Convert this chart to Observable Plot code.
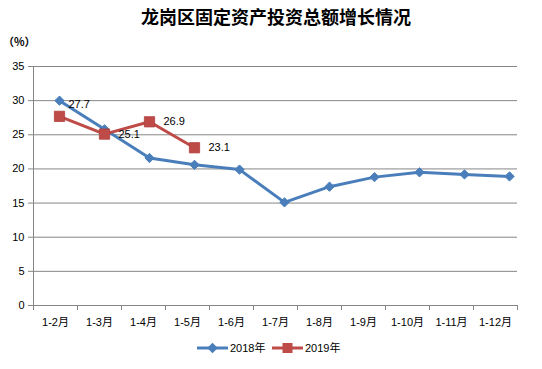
<!DOCTYPE html>
<html>
<head>
<meta charset="utf-8">
<script src="https://cdn.jsdelivr.net/npm/d3@7"></script>
<script src="https://cdn.jsdelivr.net/npm/@observablehq/plot@0.6"></script>
<style>
  html, body { margin: 0; padding: 0; background: #fff; }
  #chart { position: relative; width: 542px; height: 369px; }
  #chart svg { position: absolute; left: 0; top: 0; }
</style>
</head>
<body>
<div id="chart"></div>
<script>
const titleText = "龙岗区固定资产投资总额增长情况";
const unitText = "（%）";
const categories = ["1-2月", "1-3月", "1-4月", "1-5月", "1-6月", "1-7月", "1-8月", "1-9月", "1-10月", "1-11月", "1-12月"];
const v2018 = [30.0, 25.8, 21.6, 20.6, 19.9, 15.1, 17.4, 18.8, 19.5, 19.2, 18.9];
const v2019 = [27.7, 25.1, 26.9, 23.1];
const yTicks = [0, 5, 10, 15, 20, 25, 30, 35];
const seriesNames = ["2018年", "2019年"];
const colors = ["#4A7EBB", "#BE4B48"];

const d2018 = v2018.map((v, i) => ({cat: categories[i], v}));
const d2019 = v2019.map((v, i) => ({cat: categories[i], v}));

const font = "'Liberation Sans', 'Noto Sans CJK SC', sans-serif";
const frame = {width: 542, height: 369, marginTop: 66, marginBottom: 64, marginLeft: 33, marginRight: 25};

// background: grid, axes
const base = Plot.plot({
  ...frame,
  style: {fontFamily: font, fontSize: "11px", color: "#000", background: "#fff"},
  x: {type: "band", domain: categories, padding: 0, label: null},
  y: {domain: [0, 35], label: null},
  marks: [
    Plot.gridY(yTicks, {stroke: "#868686", strokeOpacity: 1, strokeWidth: 1}),
    Plot.axisY(yTicks, {tickSize: 5, tickPadding: 4, stroke: "#868686", fill: "#000", fontSize: 11, label: null}),
    Plot.axisX({tickSize: 0, tickPadding: 13, fill: "#000", fontSize: 11, label: null})
  ]
});

// data layer (the original's points are spaced slightly wider than the category bands)
const data = Plot.plot({
  ...frame,
  style: {fontFamily: font, fontSize: "11px", color: "#000", background: "transparent"},
  x: {type: "point", domain: categories, padding: 0, insetLeft: 23, insetRight: 5, axis: null},
  y: {domain: [0, 35], axis: null},
  marks: [
    Plot.line(d2018, {x: "cat", y: "v", stroke: colors[0], strokeWidth: 3, strokeLinejoin: "round"}),
    Plot.dot(d2018, {x: "cat", y: "v", symbol: "diamond2", r: 4.2, fill: colors[0], stroke: colors[0], strokeWidth: 1}),
    Plot.line(d2019, {x: "cat", y: "v", stroke: colors[1], strokeWidth: 3, strokeLinejoin: "round"}),
    Plot.dot(d2019, {x: "cat", y: "v", symbol: "square", r: 5.8, fill: colors[1], stroke: "#B0403D", strokeWidth: 0.8}),
    Plot.text(d2019.slice(0, 1), {x: "cat", y: "v", text: d => d.v.toFixed(1), dx: 9, dy: -12, textAnchor: "start", fontSize: 11, fill: "#000"}),
    Plot.text(d2019.slice(1), {x: "cat", y: "v", text: d => d.v.toFixed(1), dx: 14, dy: 0, textAnchor: "start", fontSize: 11, fill: "#000"})
  ]
});

const chart = document.getElementById("chart");
chart.appendChild(base);
chart.appendChild(data);

const svg = d3.select(base);
const xs = base.scale("x");
const ys = base.scale("y");
const y0 = ys.apply(0);
const yTop = ys.apply(35);
const bw = xs.bandwidth;
const xStart = xs.apply(categories[0]);

// axis lines and category boundary ticks (from the Plot scales)
const g = svg.append("g").attr("stroke", "#868686").attr("stroke-width", 1);
g.append("line").attr("x1", xStart + 0.5).attr("x2", xStart + 0.5).attr("y1", yTop).attr("y2", y0 + 0.5);
g.append("line").attr("x1", xStart).attr("x2", xStart + bw * categories.length).attr("y1", y0 + 0.5).attr("y2", y0 + 0.5);
for (let i = 0; i <= categories.length; i++) {
  const xx = Math.round(xStart + bw * i) + 0.5;
  g.append("line").attr("x1", xx).attr("x2", xx).attr("y1", y0).attr("y2", y0 + 5);
}

// title
svg.append("text")
  .attr("x", 276).attr("y", 24)
  .attr("text-anchor", "middle")
  .attr("font-family", "'Noto Sans CJK SC', sans-serif")
  .attr("font-weight", "bold")
  .attr("font-size", 18)
  .attr("fill", "#000")
  .text(titleText);

// unit label
svg.append("text")
  .attr("x", 3).attr("y", 46)
  .attr("text-anchor", "start")
  .attr("font-family", "'Noto Sans CJK SC', sans-serif")
  .attr("font-weight", "bold")
  .attr("font-size", 11)
  .attr("fill", "#000")
  .text(unitText);

// legend
const lg = svg.append("g").attr("font-family", font).attr("font-size", 11).attr("text-anchor", "start");
const legendItems = [
  {name: seriesNames[0], color: colors[0], x: 197, sym: d3.symbolDiamond2, size: 70},
  {name: seriesNames[1], color: colors[1], x: 272, sym: d3.symbolSquare, size: 100}
];
legendItems.forEach(it => {
  const ly = 348;
  lg.append("line").attr("x1", it.x).attr("x2", it.x + 31).attr("y1", ly).attr("y2", ly)
    .attr("stroke", it.color).attr("stroke-width", 3);
  lg.append("path").attr("d", d3.symbol(it.sym, it.size)()).attr("transform", `translate(${it.x + 15.5},${ly})`)
    .attr("fill", it.color);
  lg.append("text").attr("x", it.x + 33).attr("y", ly).attr("dy", "0.35em").attr("fill", "#000").text(it.name);
});
</script>
</body>
</html>
